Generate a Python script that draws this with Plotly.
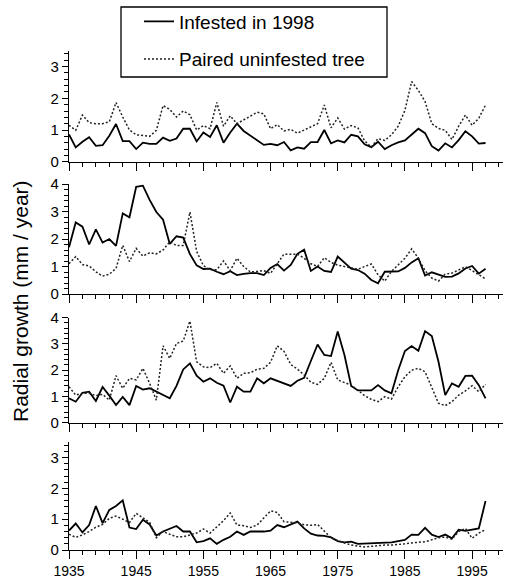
import plotly.graph_objects as go

years = list(range(1935, 1998))

p1_infested = [0.86, 0.45, 0.63, 0.77, 0.50, 0.52, 0.82, 1.19, 0.65, 0.65,
               0.40, 0.60, 0.56, 0.56, 0.76, 0.66, 0.73, 1.04, 1.04, 0.64,
               0.92, 0.78, 1.15, 0.60, 0.92, 1.20, 0.97, 0.82, 0.68, 0.53,
               0.56, 0.52, 0.62, 0.36, 0.45, 0.41, 0.62, 0.62, 1.00, 0.58,
               0.67, 0.61, 0.85, 0.80, 0.55, 0.46, 0.63, 0.40, 0.52, 0.61,
               0.67, 0.84, 1.04, 0.90, 0.49, 0.35, 0.58, 0.45, 0.68, 0.96,
               0.80, 0.57, 0.59]
p1_paired = [1.15, 0.99, 1.47, 1.23, 1.20, 1.20, 1.26, 1.87, 1.41, 1.00,
             0.85, 0.83, 0.80, 0.99, 1.77, 1.65, 1.41, 1.60, 1.48, 1.00,
             1.14, 1.04, 1.87, 1.12, 1.45, 1.20, 1.32, 1.45, 1.56, 1.51,
             1.04, 1.17, 0.97, 1.02, 0.90, 1.00, 1.10, 1.20, 1.79, 1.07,
             1.38, 1.03, 1.14, 1.07, 0.66, 0.46, 0.73, 0.67, 0.85, 1.12,
             1.62, 2.53, 2.25, 1.90, 1.20, 1.05, 0.99, 0.70, 1.12, 1.47,
             1.15, 1.37, 1.79]

p2_infested = [1.70, 2.60, 2.45, 1.80, 2.35, 1.87, 2.00, 1.75, 2.93, 2.79,
               3.90, 3.94, 3.42, 2.98, 2.70, 1.82, 2.10, 2.05, 1.45, 1.04,
               0.91, 0.92, 0.81, 0.72, 0.83, 0.69, 0.73, 0.76, 0.76, 0.69,
               0.95, 1.09, 0.85, 1.06, 1.46, 1.61, 0.84, 1.00, 0.84, 0.80,
               1.36, 1.15, 0.92, 0.87, 0.74, 0.51, 0.39, 0.81, 0.82, 0.82,
               0.95, 1.15, 1.30, 0.67, 0.79, 0.71, 0.62, 0.63, 0.75, 0.93,
               1.02, 0.74, 0.92]
p2_paired = [1.10, 1.36, 1.07, 1.02, 0.81, 0.65, 0.72, 0.93, 1.77, 1.18,
             1.66, 1.38, 1.50, 1.46, 1.60, 1.90, 1.76, 1.76, 2.98, 1.55,
             1.03, 0.88, 0.88, 1.20, 0.85, 1.30, 1.00, 0.80, 0.82, 0.85,
             0.75, 1.10, 1.45, 1.45, 1.45, 1.30, 1.10, 1.00, 1.32, 1.15,
             1.05, 1.00, 0.95, 0.90, 1.00, 1.09, 0.70, 0.47, 0.82, 1.05,
             1.30, 1.64, 1.30, 0.85, 0.58, 0.47, 0.72, 0.76, 0.88, 0.99,
             0.85, 0.70, 0.55]

p3_infested = [0.93, 0.80, 1.14, 1.18, 0.83, 1.36, 1.03, 0.67, 0.98, 0.67,
               1.40, 1.26, 1.31, 1.18, 1.07, 0.93, 1.40, 2.03, 2.26, 1.79,
               1.56, 1.69, 1.52, 1.41, 0.77, 1.37, 1.18, 1.18, 1.69, 1.50,
               1.69, 1.59, 1.50, 1.40, 1.60, 1.71, 2.35, 2.98, 2.58, 2.54,
               3.47, 2.58, 1.40, 1.23, 1.23, 1.23, 1.43, 1.23, 1.12, 2.00,
               2.73, 2.92, 2.74, 3.49, 3.30, 2.32, 1.05, 1.50, 1.37, 1.78,
               1.79, 1.43, 0.93]
p3_paired = [1.37, 1.05, 1.12, 1.12, 1.03, 1.08, 0.86, 1.79, 1.31, 1.69,
             1.63, 2.07, 1.50, 0.86, 2.93, 2.45, 3.02, 3.11, 3.87, 2.32,
             2.13, 2.10, 2.26, 1.88, 2.16, 1.69, 1.88, 1.90, 2.04, 2.07,
             2.30, 2.93, 2.72, 2.22, 2.04, 1.82, 1.54, 1.46, 1.69, 2.30,
             1.63, 1.54, 1.43, 1.24, 1.03, 0.89, 0.80, 0.99, 0.90, 1.37,
             1.75, 2.00, 2.07, 1.94, 1.31, 0.74, 0.65, 0.80, 1.05, 1.21,
             1.41, 1.18, 1.46]

p4_infested = [0.63, 0.86, 0.57, 0.81, 1.43, 0.87, 1.30, 1.43, 1.61, 0.73,
               0.68, 0.98, 0.83, 0.47, 0.60, 0.69, 0.78, 0.60, 0.60, 0.25,
               0.29, 0.38, 0.20, 0.33, 0.43, 0.60, 0.49, 0.60, 0.60, 0.60,
               0.63, 0.81, 0.74, 0.83, 0.92, 0.70, 0.53, 0.47, 0.46, 0.41,
               0.29, 0.25, 0.27, 0.20, 0.21, 0.22, 0.24, 0.25, 0.25, 0.29,
               0.33, 0.50, 0.49, 0.72, 0.50, 0.42, 0.50, 0.38, 0.66, 0.62,
               0.66, 0.70, 1.59]
p4_paired = [0.51, 0.41, 0.49, 0.60, 0.74, 0.83, 1.03, 1.10, 1.00, 0.89,
             1.19, 1.05, 0.90, 0.40, 0.60, 0.51, 0.43, 0.43, 0.49, 0.55,
             0.68, 0.55, 0.75, 0.95, 1.20, 0.81, 0.79, 0.73, 0.81, 1.03,
             1.27, 1.22, 0.92, 0.90, 0.88, 0.82, 0.80, 0.83, 0.60, 0.40,
             0.30, 0.22, 0.16, 0.13, 0.10, 0.12, 0.15, 0.16, 0.16, 0.17,
             0.20, 0.23, 0.25, 0.27, 0.33, 0.40, 0.42, 0.35, 0.60, 0.70,
             0.38, 0.55, 0.66]

panels = [(p1_infested, p1_paired, 3.5), (p2_infested, p2_paired, 4.0),
          (p3_infested, p3_paired, 4.0), (p4_infested, p4_paired, 3.5)]
legend_names = ["Infested in 1998", "Paired uninfested tree"]

W, H = 510, 580
# pixel positions of each panel (bottom, top)
ydoms_px = [(161.7, 50.8), (294.0, 184.0), (422.7, 317.7), (550.0, 442.2)]
x0_px, x1_px = 69.0, 503.0
FONT = "Liberation Sans, Arial, Helvetica, sans-serif"

fig = go.Figure()
layout = dict(
    width=W, height=H, margin=dict(l=0, r=0, t=0, b=0),
    paper_bgcolor="white", plot_bgcolor="white", template="none",
    font=dict(family=FONT, color="black", size=14),
    showlegend=True,
    legend=dict(x=139 / W, y=1 - 2.5 / H, xanchor="left", yanchor="top",
                borderwidth=0, bgcolor="rgba(0,0,0,0)",
                font=dict(size=19, family=FONT), tracegroupgap=10,
                itemwidth=30),
)

for i, (inf, pair, ymax) in enumerate(panels):
    n = i + 1
    xa = "x" if n == 1 else f"x{n}"
    ya = "y" if n == 1 else f"y{n}"
    fig.add_trace(go.Scatter(x=years, y=inf, xaxis=xa, yaxis=ya, mode="lines",
                             name=legend_names[0], legendgroup="inf",
                             showlegend=(n == 1),
                             line=dict(color="black", width=1.8)))
    fig.add_trace(go.Scatter(x=years, y=pair, xaxis=xa, yaxis=ya, mode="lines",
                             name=legend_names[1], legendgroup="pair",
                             showlegend=(n == 1),
                             line=dict(color="#222222", width=1.5, dash="2px,2px")))
    b, t = ydoms_px[i]
    xkey = "xaxis" if n == 1 else f"xaxis{n}"
    ykey = "yaxis" if n == 1 else f"yaxis{n}"
    layout[xkey] = dict(
        domain=[x0_px / W, x1_px / W], range=[1935, 1999.6], anchor=ya,
        showline=True, linecolor="black", linewidth=1.2, showgrid=False,
        zeroline=False, ticks="outside", tick0=1935, dtick=10, ticklen=8,
        tickwidth=1.2, tickcolor="black", showticklabels=(n == 4),
        tickfont=dict(size=14, family=FONT),
        minor=dict(tick0=1935, dtick=2, ticks="outside", ticklen=4,
                   tickwidth=1, tickcolor="black", showgrid=False),
    )
    layout[ykey] = dict(
        domain=[1 - b / H, 1 - t / H], range=[0, ymax], anchor=xa,
        showline=True, linecolor="black", linewidth=1.2, showgrid=False,
        zeroline=False, ticks="outside", tick0=0, dtick=1, ticklen=6,
        tickwidth=1.2, tickcolor="black",
        tickfont=dict(size=15, family=FONT),
        minor=dict(tick0=0, dtick=0.2, ticks="outside", ticklen=4,
                   tickwidth=1, tickcolor="black", showgrid=False),
    )

# legend frame
layout["shapes"] = [dict(type="rect", xref="paper", yref="paper",
                         x0=121 / W, x1=387 / W, y0=1 - 77 / H, y1=1 - 7 / H,
                         line=dict(color="black", width=1.3),
                         fillcolor="white", layer="below")]

layout["annotations"] = [dict(
    text="Radial growth (mm / year)", x=20 / W, y=1 - 301 / H,
    xref="paper", yref="paper", showarrow=False, textangle=-90,
    font=dict(size=21, family=FONT, color="black"),
    xanchor="center", yanchor="middle")]

fig.update_layout(**layout)
fig.write_html("out.html")
